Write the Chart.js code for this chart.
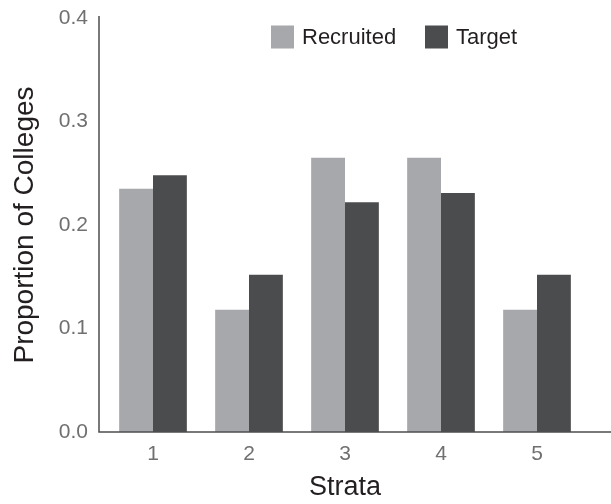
<!DOCTYPE html>
<html>
<head>
<meta charset="utf-8">
<script src="https://cdn.jsdelivr.net/npm/chart.js@4.4.1/dist/chart.umd.min.js"></script>
<style>
  html, body { margin: 0; padding: 0; background: #fff; }
  #wrap { width: 611px; height: 504px; }
</style>
</head>
<body>
<div id="wrap"><canvas id="strataChart" width="611" height="504"></canvas></div>
<script>
const strata = ['1', '2', '3', '4', '5']
const recruited = [0.235, 0.118, 0.265, 0.265, 0.118]
const target = [0.248, 0.152, 0.222, 0.231, 0.152]
const yTicks = [0.0, 0.1, 0.2, 0.3, 0.4]

const fontFamily = '"Liberation Sans", Arial, sans-serif'
const lightGray = '#a7a8ab'
const darkGray = '#4b4c4e'

// axis lines drawn a bit outside the plot, like the original figure
const axisLines = {
  id: 'axisLines',
  afterDraw(chart) {
    const ctx = chart.ctx
    const area = chart.chartArea
    const x0 = area.left - 6
    ctx.save()
    ctx.strokeStyle = '#4d4d4f'
    ctx.lineWidth = 1.5
    ctx.beginPath()
    ctx.moveTo(x0, area.top - 2)
    ctx.lineTo(x0, area.bottom)
    ctx.lineTo(chart.width, area.bottom)
    ctx.stroke()
    ctx.restore()
  }
}

// legend inside the plot area, top right
const insideLegend = {
  id: 'insideLegend',
  afterDraw(chart) {
    const ctx = chart.ctx
    const items = chart.data.datasets
    const starts = [271, 425]
    const box = 23
    const cy = 37
    ctx.save()
    ctx.font = '22px ' + fontFamily
    ctx.textBaseline = 'middle'
    items.forEach(function (ds, i) {
      ctx.fillStyle = ds.backgroundColor
      ctx.fillRect(starts[i], cy - box / 2, box, box)
      ctx.fillStyle = '#231f20'
      ctx.fillText(ds.label, starts[i] + box + 8, cy + 1)
    })
    ctx.restore()
  }
}

new Chart(document.getElementById('strataChart'), {
  type: 'bar',
  data: {
    labels: strata,
    datasets: [
      { label: 'Recruited', data: recruited, backgroundColor: lightGray, borderWidth: 0 },
      { label: 'Target', data: target, backgroundColor: darkGray, borderWidth: 0 }
    ]
  },
  options: {
    responsive: false,
    animation: false,
    categoryPercentage: 0.705,
    barPercentage: 1.0,
    layout: { padding: { top: 18, right: 26, left: 0, bottom: 0 } },
    plugins: {
      legend: { display: false },
      tooltip: { enabled: false }
    },
    scales: {
      x: {
        grid: { display: false, drawTicks: false },
        border: { display: false },
        ticks: { color: '#707070', font: { family: fontFamily, size: 21 }, padding: 10 },
        title: {
          display: true,
          text: 'Strata',
          color: '#231f20',
          font: { family: fontFamily, size: 27 },
          padding: { top: 0, bottom: 0 }
        },
        afterFit(scale) { scale.height = 72 }
      },
      y: {
        min: 0,
        max: 0.4,
        grid: { display: false, drawTicks: false },
        border: { display: false },
        afterBuildTicks(scale) { scale.ticks = yTicks.map(v => ({ value: v })) },
        ticks: {
          color: '#707070',
          font: { family: fontFamily, size: 21 },
          padding: 17,
          callback: v => v.toFixed(1)
        },
        title: {
          display: true,
          text: 'Proportion of Colleges',
          color: '#231f20',
          font: { family: fontFamily, size: 28 },
          padding: { top: 8, bottom: 0 }
        },
        afterFit(scale) {
          scale.width = 105
          // tick padding would otherwise push the plot top down
          scale.paddingTop = 0
          scale.paddingBottom = 0
        }
      }
    }
  },
  plugins: [axisLines, insideLegend]
})
</script>
</body>
</html>
